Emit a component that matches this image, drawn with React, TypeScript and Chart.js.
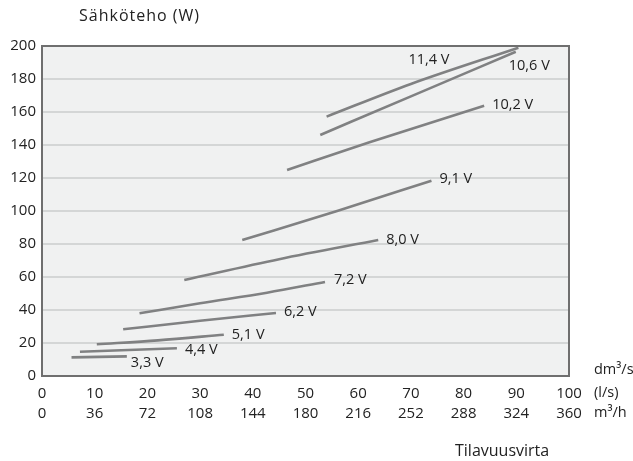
import React, { useEffect, useRef } from "react";
import { Chart, registerables } from "chart.js";

Chart.register(...registerables);

// ---- Data ----
const voltageLabels = ["3,3 V", "4,4 V", "5,1 V", "6,2 V", "7,2 V", "8,0 V", "9,1 V", "10,2 V", "10,6 V", "11,4 V"];

const flow33 = [5.6, 16.1];
const power33 = [11.3, 11.9];
const flow44 = [7.2, 25.6];
const power44 = [14.7, 16.8];
const flow51 = [10.4, 22.0, 34.5];
const power51 = [19.2, 21.6, 25.0];
const flow62 = [15.4, 30.0, 44.4];
const power62 = [28.3, 33.5, 38.2];
const flow72 = [18.5, 30.0, 42.7, 53.7];
const power72 = [38.0, 44.1, 50.5, 57.0];
const flow80 = [27.0, 45.0, 63.8];
const power80 = [58.2, 70.8, 82.4];
const flow91 = [38.0, 56.0, 73.9];
const power91 = [82.4, 100.0, 118.4];
const flow102 = [46.5, 62.0, 83.9];
const power102 = [124.8, 141.5, 163.8];
const flow106 = [52.8, 70.0, 89.9];
const power106 = [146.1, 169.5, 196.5];
const flow114 = [54.0, 70.0, 90.4];
const power114 = [157.2, 177.0, 199.0];

const flowSeries = [flow33, flow44, flow51, flow62, flow72, flow80, flow91, flow102, flow106, flow114];
const powerSeries = [power33, power44, power51, power62, power72, power80, power91, power102, power106, power114];

const yTicks = [0, 20, 40, 60, 80, 100, 120, 140, 160, 180, 200];
const lsTicks = ["0", "10", "20", "30", "40", "50", "60", "70", "80", "90", "100"];
const m3hTicks = ["0", "36", "72", "108", "144", "180", "216", "252", "288", "324", "360"];

const yTitle = "Sähköteho (W)";
const xTitle = "Tilavuusvirta";
const unitLabels = ["dm³/s", "(l/s)", "m³/h"];

// ---- Style ----
const FONT = "'Open Sans', sans-serif";
const TEXT = "#222222";
const LINE = "#808182";
const BG = "#f0f1f1";
const GRID = "#d4d6d6";
const FRAME = "#6f6f6f";
// label offsets (px) relative to the last point of each line
const labelOffsets: [number, number][] = [
  [4, 7], [8, 2], [8, 0], [8, -1], [9, -2], [8, 0], [8, -2], [8, -1], [-7, 14], [-110, 12],
];

export default function App() {
  const ref = useRef<HTMLCanvasElement | null>(null);

  useEffect(() => {
    if (!ref.current) return;
    const datasets = flowSeries.map((xs, i) => ({
      label: voltageLabels[i],
      data: xs.map((x, j) => ({ x, y: powerSeries[i][j] })),
      borderColor: LINE,
      borderWidth: 2.6,
      pointRadius: 0,
      tension: 0.4,
      cubicInterpolationMode: "monotone" as const,
      fill: false,
    }));

    const decor = {
      id: "decor",
      beforeDraw(chart: any) {
        const { ctx, chartArea: a } = chart;
        ctx.save();
        ctx.fillStyle = BG;
        ctx.fillRect(a.left, a.top, a.right - a.left, a.bottom - a.top);
        ctx.restore();
      },
      afterDatasetsDraw(chart: any) {
        const { ctx, chartArea: a } = chart;
        ctx.save();
        ctx.strokeStyle = FRAME;
        ctx.lineWidth = 2;
        ctx.strokeRect(a.left, a.top, a.right - a.left, a.bottom - a.top);

        ctx.fillStyle = TEXT;
        ctx.textBaseline = "middle";
        ctx.textAlign = "left";
        ctx.font = `14.5px ${FONT}`;
        // line labels
        chart.data.datasets.forEach((ds: any, i: number) => {
          const meta = chart.getDatasetMeta(i);
          const last = meta.data[meta.data.length - 1];
          const [dx, dy] = labelOffsets[i];
          ctx.fillText(ds.label, last.x + dx, last.y + dy);
        });
        // unit labels
        const xs = chart.scales.x;
        const rowY = [a.bottom - 6, a.bottom + 16.5, a.bottom + 36.5];
        unitLabels.forEach((u, k) => ctx.fillText(u, xs.right + 25, rowY[k]));
        // titles
        ctx.font = `16px ${FONT}`;
        ctx.fillText(xTitle, 455, 451);
        (ctx as any).letterSpacing = "1px";
        ctx.fillText(yTitle, 79, 16);
        ctx.restore();
      },
    };

    const chart = new Chart(ref.current, {
      type: "line",
      data: { datasets },
      options: {
        animation: false,
        responsive: false,
        maintainAspectRatio: false,
        layout: { padding: { top: 46, right: 64, left: 0, bottom: 0 } },
        plugins: { legend: { display: false }, tooltip: { enabled: false } },
        scales: {
          x: {
            type: "linear",
            min: 0,
            max: 100,
            grid: { display: false },
            border: { display: false },
            afterFit(s: any) { s.height = 85; },
            afterBuildTicks(s: any) { s.ticks = lsTicks.map((_, i) => ({ value: i * 10 })); },
            ticks: {
              color: TEXT,
              padding: 0,
              maxRotation: 0,
              autoSkip: false,
              font: { family: FONT, size: 15, lineHeight: "20px" } as any,
              callback: (_v: any, i: number) => [lsTicks[i], m3hTicks[i]],
            },
          },
          y: {
            type: "linear",
            min: 0,
            max: 200,
            grid: { color: GRID, lineWidth: 2, drawTicks: false },
            border: { display: false },
            afterFit(s: any) { s.width = 42; },
            afterBuildTicks(s: any) { s.ticks = yTicks.map((v) => ({ value: v })); },
            ticks: {
              color: TEXT,
              padding: 6,
              font: { family: FONT, size: 15 },
              callback: (v: any) => String(v),
            },
          },
        },
      },
      plugins: [decor],
    });
    return () => chart.destroy();
  }, []);

  return (
    <div style={{ position: "fixed", left: 0, top: 0, width: 633, height: 461, background: "#fff" }}>
      <canvas ref={ref} width={633} height={461} style={{ width: 633, height: 461 }} />
    </div>
  );
}
